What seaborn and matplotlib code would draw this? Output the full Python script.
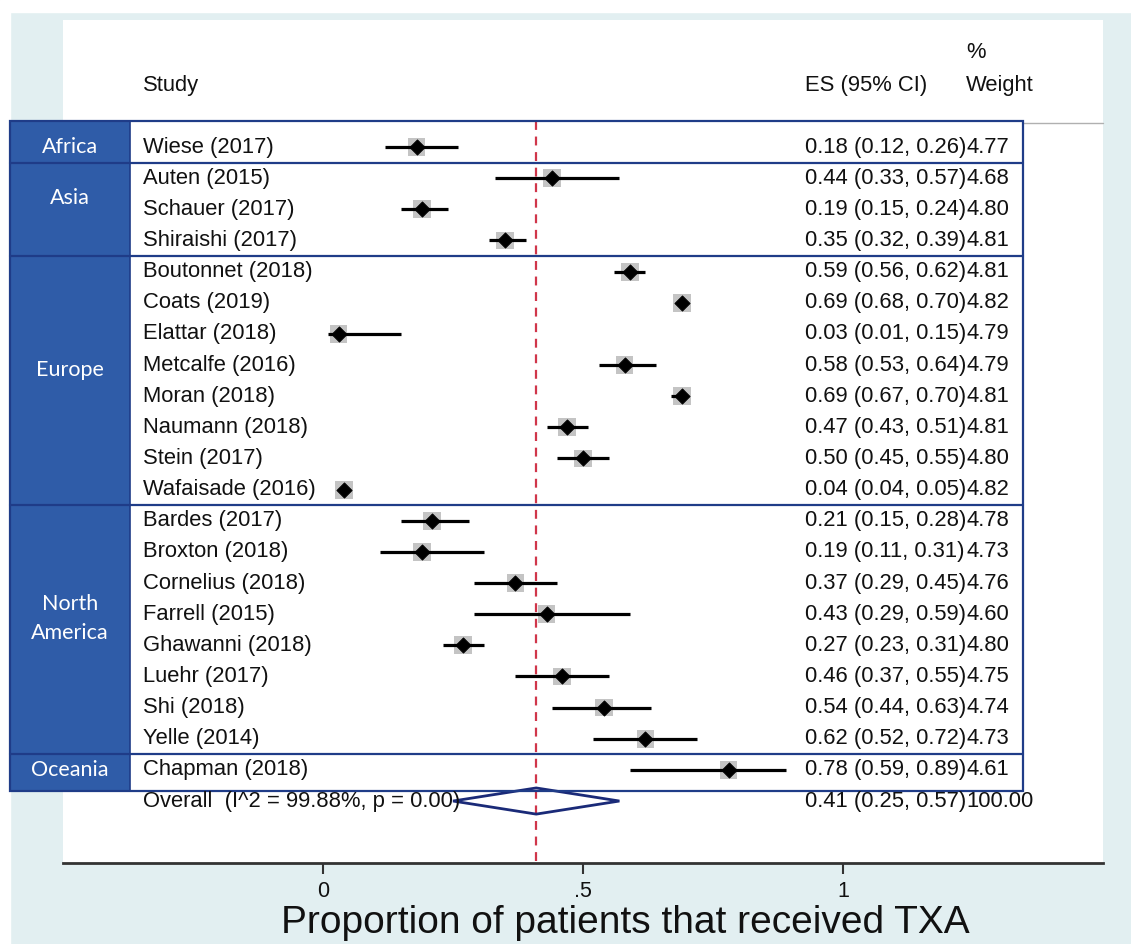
import numpy as np
import pandas as pd
import matplotlib
matplotlib.use("Agg")
import matplotlib.pyplot as plt
from matplotlib.patches import Rectangle, Polygon
import seaborn as sns

# Study data
studies = ["Wiese (2017)", "Auten (2015)", "Schauer (2017)", "Shiraishi (2017)",
           "Boutonnet (2018)", "Coats (2019)", "Elattar (2018)", "Metcalfe (2016)",
           "Moran (2018)", "Naumann (2018)", "Stein (2017)", "Wafaisade (2016)",
           "Bardes (2017)", "Broxton (2018)", "Cornelius (2018)", "Farrell (2015)",
           "Ghawanni (2018)", "Luehr (2017)", "Shi (2018)", "Yelle (2014)",
           "Chapman (2018)"]
es = [0.18, 0.44, 0.19, 0.35, 0.59, 0.69, 0.03, 0.58, 0.69, 0.47, 0.50, 0.04,
      0.21, 0.19, 0.37, 0.43, 0.27, 0.46, 0.54, 0.62, 0.78]
ci_lo = [0.12, 0.33, 0.15, 0.32, 0.56, 0.68, 0.01, 0.53, 0.67, 0.43, 0.45, 0.04,
         0.15, 0.11, 0.29, 0.29, 0.23, 0.37, 0.44, 0.52, 0.59]
ci_hi = [0.26, 0.57, 0.24, 0.39, 0.62, 0.70, 0.15, 0.64, 0.70, 0.51, 0.55, 0.05,
         0.28, 0.31, 0.45, 0.59, 0.31, 0.55, 0.63, 0.72, 0.89]
weight = [4.77, 4.68, 4.80, 4.81, 4.81, 4.82, 4.79, 4.79, 4.81, 4.81, 4.80, 4.82,
          4.78, 4.73, 4.76, 4.60, 4.80, 4.75, 4.74, 4.73, 4.61]

region_names = ["Africa", "Asia", "Europe", "North\nAmerica", "Oceania"]
region_counts = [1, 3, 8, 8, 1]

overall_es, overall_lo, overall_hi, overall_w = 0.41, 0.25, 0.57, 100.00
overall_label = "Overall  (I^2 = 99.88%, p = 0.00)"

xticks = [0, 0.5, 1]
xticklabels = ["0", ".5", "1"]
xlabel = "Proportion of patients that received TXA"

df = pd.DataFrame({"study": studies, "es": es, "lo": ci_lo, "hi": ci_hi, "weight": weight})
df["row"] = np.arange(len(df))
overall_row = len(df)

# colours
bg = "#e2eff1"
box_blue = "#2f5ca8"
navy = "#1f3c88"

sns.set_theme(style="white")
plt.rcParams["font.family"] = ["Liberation Sans", "DejaVu Sans"]
plt.rcParams["text.color"] = "#111111"

fig = plt.figure(figsize=(11.31, 9.44), dpi=100, facecolor=bg)
# white crop strips at top/left like the screenshot
fig.patches.append(Rectangle((0, 1 - 12 / 944), 1, 12 / 944, transform=fig.transFigure,
                             color="white", zorder=-1))
fig.patches.append(Rectangle((0, 0), 10 / 1131, 1, transform=fig.transFigure,
                             color="white", zorder=-1))

ax = fig.add_axes([63 / 1131, 1 - 863 / 944, 1040 / 1131, 843 / 944])
ax.set_facecolor("white")

# confidence intervals
ax.hlines(df["row"], df["lo"], df["hi"], color="black", lw=2.3, zorder=3)
# weight boxes
sns.scatterplot(data=df, x="es", y="row", marker="s", size="weight",
                sizes=(0, 165), size_norm=(0, 4.82), color="#c4c4c4",
                edgecolor="none", legend=False, zorder=2, ax=ax)
# point estimates
sns.scatterplot(data=df, x="es", y="row", marker="D", s=60, color="black",
                edgecolor="black", legend=False, zorder=4, ax=ax)

# overall diamond
ax.add_patch(Polygon([(overall_lo, overall_row), (overall_es, overall_row - 0.42),
                      (overall_hi, overall_row), (overall_es, overall_row + 0.42)],
                     closed=True, fill=False, edgecolor="#1a2a78", lw=2, zorder=5))

# table frame
top = -0.85
bottom = len(df) - 1 + 0.67
x_left, x_col, x_right = -0.602, -0.371, 1.346

ax.vlines(overall_es, top, 23, colors="#d0364a", linestyles=(0, (4, 3)), lw=1.6, zorder=1)

ax.add_patch(Rectangle((x_left, top), x_col - x_left, bottom - top, facecolor=box_blue,
                       edgecolor="none", clip_on=False, zorder=1))
ax.add_patch(Rectangle((x_left, top), x_right - x_left, bottom - top, facecolor="none",
                       edgecolor=navy, lw=1.6, clip_on=False, zorder=6))
ax.plot([x_col, x_col], [top, bottom], color=navy, lw=1.2, clip_on=False, zorder=6)

start = 0
for name, n in zip(region_names, region_counts):
    end = start + n
    if end < len(df):
        ax.plot([x_left, x_right], [end - 0.5, end - 0.5], color=navy, lw=1.6,
                clip_on=False, zorder=6)
    if n == 1:
        ly = start
    else:
        ly = (start + end - 1) / 2 - 0.35
    ax.text((x_left + x_col) / 2, ly, name, color="white", ha="center", va="center",
            fontsize=15.5, family=["Lato", "DejaVu Sans"], linespacing=1.55, zorder=7)
    start = end

# header separator
ax.plot([x_right, 1.5], [-0.77, -0.77], color="#b0b0b0", lw=1, clip_on=False)

# text columns
x_study, x_es, x_w = -0.346, 0.927, 1.237
fs = 15.8
ax.text(x_study, -1.99, "Study", fontsize=fs, va="center")
ax.text(x_es, -1.99, "ES (95% CI)", fontsize=fs, va="center")
ax.text(x_w, -1.99, "Weight", fontsize=fs, va="center")
ax.text(x_w, -3.05, "%", fontsize=fs, va="center")

for r in df.itertuples():
    ax.text(x_study, r.row, r.study, fontsize=fs, va="center", zorder=7)
    ax.text(x_es, r.row, f"{r.es:.2f} ({r.lo:.2f}, {r.hi:.2f})", fontsize=fs,
            va="center", zorder=7)
    ax.text(x_w, r.row, f"{r.weight:.2f}", fontsize=fs, va="center", zorder=7)

ax.text(x_study, overall_row, overall_label, fontsize=fs, va="center", zorder=7)
ax.text(x_es, overall_row, f"{overall_es:.2f} ({overall_lo:.2f}, {overall_hi:.2f})",
        fontsize=fs, va="center", zorder=7)
ax.text(x_w, overall_row, f"{overall_w:.2f}", fontsize=fs, va="center", zorder=7)

# axes styling
ax.set_xlim(-0.5, 1.5)
ax.set_ylim(22.99, -4.08)
ax.set_yticks([])
ax.set_ylabel("")
ax.set_xticks(xticks)
ax.set_xticklabels(xticklabels)
ax.set_xlabel(xlabel, fontsize=28, color="#111111")
ax.xaxis.set_label_coords(0.541, -0.071, transform=ax.transAxes)
ax.xaxis.label.set_va("center")
ax.tick_params(axis="x", bottom=True, length=8, width=1.5, color="#333333",
               labelsize=15.5, pad=5, labelcolor="#111111")
for s in ["top", "left", "right"]:
    ax.spines[s].set_visible(False)
ax.spines["bottom"].set_color("#333333")
ax.spines["bottom"].set_linewidth(2)

fig.savefig("out.png", dpi=100, facecolor=fig.get_facecolor())
